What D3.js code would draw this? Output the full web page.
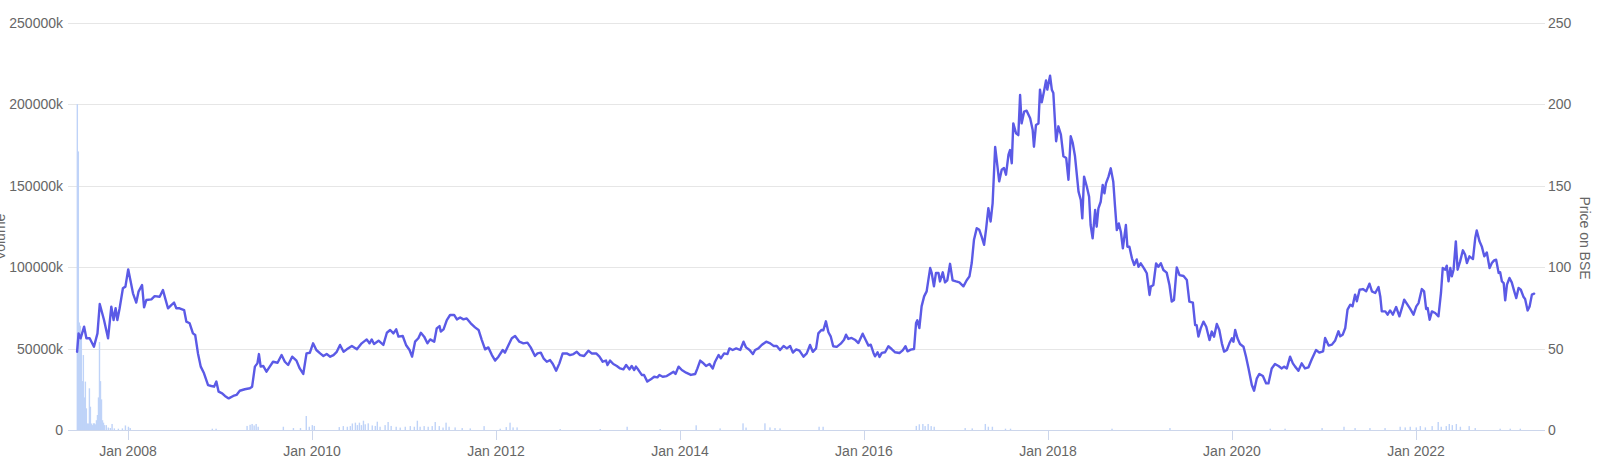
<!DOCTYPE html>
<html><head><meta charset="utf-8">
<script src="https://cdn.jsdelivr.net/npm/d3@7"></script>
<style>body{margin:0;background:#fff}svg{display:block}</style>
</head><body><svg id="c" width="1600" height="472"></svg>
<script>
// Price on BSE (date, price)
const priceSeries = [
["2007-06-13",48],["2007-06-19",59.3],["2007-06-27",56.3],["2007-07-11",63.4],["2007-07-20",56.3],["2007-08-02",56.3],["2007-08-19",51.1],["2007-09-02",59.3],["2007-09-11",77.3],["2007-09-28",67.5],["2007-10-14",56.3],["2007-10-27",75.7],["2007-11-05",67.5],["2007-11-13",74.7],["2007-11-20",67.5],["2007-11-29",74.7],["2007-12-12",87],["2007-12-22",88],["2008-01-02",98.6],["2008-01-12",91],["2008-01-21",83.9],["2008-02-03",78.2],["2008-02-12",84.9],["2008-02-26",89],["2008-03-05",75.3],["2008-03-14",79.8],["2008-04-03",80.2],["2008-04-16",82.2],["2008-05-06",81.8],["2008-05-19",85.9],["2008-05-28",80.8],["2008-06-08",74.7],["2008-06-21",76.7],["2008-07-02",78.2],["2008-07-11",74.7],["2008-07-24",74.7],["2008-08-11",73.6],["2008-08-20",66.5],["2008-09-02",65.5],["2008-09-15",59.3],["2008-09-24",58.3],["2008-10-05",47],["2008-10-16",38.9],["2008-10-29",34.8],["2008-11-14",27.6],["2008-11-27",27],["2008-12-08",26.6],["2008-12-17",29.7],["2008-12-26",23.5],["2009-01-09",22.5],["2009-01-20",20.9],["2009-02-04",19.4],["2009-02-22",20.9],["2009-03-07",21.5],["2009-03-20",24.1],["2009-04-09",25],["2009-04-29",25.6],["2009-05-08",26.6],["2009-05-19",38.9],["2009-05-29",40.9],["2009-06-04",46.6],["2009-06-11",38.9],["2009-06-21",39.3],["2009-07-04",35.8],["2009-07-17",38.9],["2009-07-30",41.9],["2009-08-17",41.3],["2009-09-02",46],["2009-09-15",41.9],["2009-09-28",39.9],["2009-10-14",45],["2009-10-31",42.6],["2009-11-13",37.8],["2009-11-27",34.4],["2009-12-10",47],["2009-12-23",47.4],["2010-01-05",53.2],["2010-01-18",49.1],
["2010-02-02",47],["2010-02-15",45.4],["2010-02-28",46.6],["2010-03-14",45],["2010-03-27",46],["2010-04-09",48],["2010-04-22",52.2],["2010-05-06",48],["2010-05-19",49.5],["2010-06-08",51.6],["2010-06-28",49.5],["2010-07-17",53.2],["2010-08-06",55.6],["2010-08-17",53.2],["2010-08-26",55.6],["2010-09-04",52.8],["2010-09-22",54.8],["2010-10-11",52.2],["2010-10-25",59.7],["2010-11-07",61.4],["2010-11-20",59.3],["2010-12-01",61.8],["2010-12-10",57.3],["2010-12-27",57.7],["2011-01-09",52.2],["2011-01-23",49.1],["2011-02-02",45],["2011-02-14",54.2],["2011-02-27",56.3],["2011-03-09",59.7],["2011-03-22",57.3],["2011-04-04",53.2],["2011-04-15",55.6],["2011-05-01",54.2],["2011-05-11",62.4],["2011-05-22",63.8],["2011-05-27",60.4],["2011-06-07",61.8],["2011-06-20",67.5],["2011-07-03",70.6],["2011-07-19",70.6],["2011-07-30",67.9],["2011-08-12",69.1],["2011-08-25",67.9],["2011-09-07",68.5],["2011-09-23",65.5],["2011-10-10",63],["2011-10-24",61.4],["2011-11-06",55.2],["2011-11-19",49.5],["2011-12-02",50.7],["2011-12-16",46],["2011-12-29",42.6],["2012-01-11",45],["2012-01-28",49.1],["2012-02-06",47.5],["2012-02-20",52.2],["2012-03-04",56.3],["2012-03-17",57.7],["2012-04-03",54.2],["2012-04-19",53.2],["2012-05-05",53.6],["2012-05-18",50.7],["2012-06-04",45.4],["2012-06-14",47],["2012-06-27",47.5],["2012-07-08",44],["2012-07-21",41.9],["2012-08-03",42.9],["2012-08-14",40.5],["2012-08-27",36.4],["2012-09-09",40.9],["2012-09-22",47],["2012-10-08",47],["2012-10-21",46],
["2012-11-04",46.6],["2012-11-17",48],["2012-11-30",46],["2012-12-16",45.4],["2013-01-02",48.7],["2013-01-15",47],["2013-02-02",47],["2013-02-15",45],["2013-02-28",41.9],["2013-03-13",42.6],["2013-03-19",39.9],["2013-03-29",42.6],["2013-04-11",40.5],["2013-04-25",39.3],["2013-05-08",37.8],["2013-05-21",37.2],["2013-06-01",39.9],["2013-06-14",37.2],["2013-06-23",39.3],["2013-07-03",36.8],["2013-07-10",38.9],["2013-07-20",36.8],["2013-08-02",33.8],["2013-08-11",33.8],["2013-08-24",29.7],["2013-09-07",31.1],["2013-09-20",32.7],["2013-10-03",32.3],["2013-10-11",33.8],["2013-10-24",32.7],["2013-11-09",33.1],["2013-11-22",34.4],["2013-12-06",35.8],["2013-12-14",34.4],["2013-12-26",38.9],["2014-01-08",36.8],["2014-01-25",35.2],["2014-02-13",33.8],["2014-03-02",34.4],["2014-03-11",37.8],["2014-03-22",42.6],["2014-04-01",41.3],["2014-04-14",39.3],["2014-04-28",40.5],["2014-05-11",37.8],["2014-05-20",41.9],["2014-06-03",46],["2014-06-12",44],["2014-06-25",47],["2014-07-08",46.6],["2014-07-16",50.1],["2014-07-29",49.1],["2014-08-12",50.1],["2014-08-28",49.1],["2014-09-10",54.2],["2014-09-20",50.7],["2014-10-04",49.1],["2014-10-17",46.6],["2014-10-26",49.1],["2014-11-08",50.1],["2014-11-21",52.2],["2014-12-09",54.2],["2014-12-25",53.2],["2015-01-07",51.6],["2015-01-20",51.6],["2015-02-02",49.1],["2015-02-16",51.6],["2015-03-01",50.1],["2015-03-14",51.6],["2015-03-25",47.5],["2015-04-07",49.5],["2015-04-20",48.7],["2015-05-06",45],["2015-05-19",47],["2015-06-01",52.2],["2015-06-12",48],["2015-06-25",50.1],["2015-07-04",59.3],["2015-07-16",61.4],
["2015-07-24",61.2],["2015-08-03",66.7],["2015-08-13",60],["2015-08-22",57.5],["2015-09-01",51.4],["2015-09-15",51],["2015-10-01",53],["2015-10-14",55.4],["2015-10-22",58.5],["2015-10-31",55.9],["2015-11-13",56.5],["2015-11-26",55.4],["2015-12-10",53.4],["2015-12-27",59.1],["2016-01-06",55.9],["2016-01-19",51.8],["2016-01-28",52.4],["2016-02-08",47.3],["2016-02-14",45.2],["2016-02-24",47.7],["2016-03-03",44.8],["2016-03-12",47.3],["2016-03-25",47.7],["2016-04-07",51.4],["2016-04-20",49.7],["2016-05-04",47.7],["2016-05-21",47.3],["2016-06-03",48.9],["2016-06-14",51.4],["2016-06-22",48.3],["2016-07-05",49.3],["2016-07-18",49.7],["2016-07-26",65.7],["2016-07-31",67.3],["2016-08-08",62.6],["2016-08-17",75.9],["2016-08-27",82],["2016-09-06",85.1],["2016-09-13",92.3],["2016-09-20",99.4],["2016-09-26",96.4],["2016-10-05",88.2],["2016-10-13",96.4],["2016-10-23",96.4],["2016-10-29",91.2],["2016-11-09",96.8],["2016-11-18",90.6],["2016-11-27",91.9],["2016-12-08",102],["2016-12-18",91.9],["2017-01-01",91.2],["2017-01-14",90.6],["2017-01-30",88.2],["2017-02-12",91.9],["2017-02-23",94.3],["2017-03-04",102.5],["2017-03-13",116.8],["2017-03-24",123.9],["2017-04-03",122.9],["2017-04-13",118.4],["2017-04-22",113.7],["2017-04-30",123.3],["2017-05-09",136.2],["2017-05-18",128],["2017-05-26",139.3],["2017-06-05",173.7],["2017-06-11",166],["2017-06-21",152.6],["2017-07-01",159.8],["2017-07-10",160.8],["2017-07-18",156.7],["2017-07-28",169],["2017-08-03",171.8],["2017-08-10",163.7],["2017-08-16",188.2],["2017-08-27",182.1],["2017-09-05",181],["2017-09-12",205.6],["2017-09-18",188.2],["2017-09-28",195.4],["2017-10-08",196],["2017-10-22",191.3],["2017-11-01",184.1],["2017-11-06",173.9],["2017-11-14",187.2],["2017-11-24",188.2],["2017-11-30",208.9],["2017-12-07",201.1],["2017-12-16",207.9],["2017-12-24",214.6],["2017-12-29",208.9],["2018-01-09",217.5],["2018-01-16",208.9],["2018-01-22",206.8],["2018-02-02",177.2],["2018-02-11",186.4],["2018-02-21",181.3],["2018-03-03",168],["2018-03-14",167],["2018-03-23",153.6],["2018-04-01",180.3],["2018-04-09",176.2],["2018-04-18",168],
["2018-05-02",146.3],["2018-05-11",141.2],["2018-05-17",129.9],["2018-05-24",155.5],["2018-06-04",149.3],["2018-06-13",143.2],["2018-06-19",125.8],["2018-06-27",117.6],["2018-07-07",135],["2018-07-13",124.8],["2018-07-20",136],["2018-07-29",140.1],["2018-08-06",150.4],["2018-08-13",145.3],["2018-08-19",151.4],["2018-08-29",155.5],["2018-09-07",160.6],["2018-09-17",152.4],["2018-09-24",137.1],["2018-10-01",122.7],["2018-10-09",126.8],["2018-10-17",121.7],["2018-10-25",111.5],["2018-11-06",125.8],["2018-11-12",112.5],["2018-11-20",112.5],["2018-11-30",105.4],["2018-12-09",101.3],["2018-12-19",104.7],["2018-12-26",100.2],["2019-01-04",102.3],["2019-01-17",99.2],["2019-01-28",96.2],["2019-02-08",82.9],["2019-02-13",88],["2019-02-23",89],["2019-03-06",102.3],["2019-03-15",100.2],["2019-03-25",102.3],["2019-04-04",98.2],["2019-04-17",96.6],["2019-04-28",89],["2019-05-07",78.8],["2019-05-16",79.8],["2019-05-27",99.8],["2019-06-07",95.1],["2019-06-23",94.5],["2019-07-06",92.1],["2019-07-16",78.8],["2019-07-30",78.2],["2019-08-08",64.4],["2019-08-14",64.4],["2019-08-21",57.3],["2019-08-30",62.4],["2019-09-10",66.5],["2019-09-21",63.4],["2019-10-04",55.2],["2019-10-13",60.4],["2019-10-22",57.3],["2019-11-02",65.1],["2019-11-12",61.4],["2019-11-22",53.2],["2019-12-01",48.1],["2019-12-12",49.1],["2019-12-22",53.2],["2020-01-01",56.3],["2020-01-07",54.2],["2020-01-14",61.4],["2020-01-23",56.3],["2020-02-02",52.8],["2020-02-16",51.1],["2020-02-26",45],["2020-03-07",37.8],["2020-03-20",27.6],["2020-03-29",24.1],["2020-04-09",31.7],["2020-04-19",34.4],["2020-05-03",33.1],["2020-05-16",28.6],["2020-05-25",28.6],["2020-06-07",37.8],["2020-06-20",40.5],["2020-07-04",39.3],["2020-07-17",37.8],["2020-07-26",38.9],["2020-08-06",37.8],["2020-08-19",45],["2020-08-30",40.9],["2020-09-08",38.9],["2020-09-21",36.4],["2020-10-04",40.9],["2020-10-17",37.8],["2020-10-31",38.5],["2020-11-13",43.4],["2020-11-30",49.1],["2020-12-13",47.5],
["2020-12-28",48.3],["2021-01-05",56.5],["2021-01-19",51.8],["2021-02-01",52.4],["2021-02-14",55],["2021-02-27",60.6],["2021-03-06",57.5],["2021-03-16",58.5],["2021-03-26",62.6],["2021-04-04",73.9],["2021-04-15",76.9],["2021-04-24",75.9],["2021-05-04",83.1],["2021-05-11",79],["2021-05-22",86.1],["2021-06-04",86.5],["2021-06-17",85.1],["2021-06-30",89.8],["2021-07-10",85.1],["2021-07-23",84.1],["2021-08-05",87.8],["2021-08-12",82],["2021-08-18",72.8],["2021-09-01",72.8],["2021-09-10",70.8],["2021-09-20",73.4],["2021-10-01",70.8],["2021-10-14",75.5],["2021-10-27",69.8],["2021-11-06",74.9],["2021-11-15",80],["2021-11-28",76.9],["2021-12-09",74.3],["2021-12-22",70.8],["2022-01-02",75.9],["2022-01-11",77.9],["2022-01-24",86.5],["2022-02-02",85.1],["2022-02-10",74.3],["2022-02-16",74.9],["2022-02-24",67.7],["2022-03-05",72.8],["2022-03-18",71.8],["2022-03-31",69.8],["2022-04-10",84.1],["2022-04-17",99.4],["2022-04-27",98.4],["2022-05-03",100.9],["2022-05-10",91.2],["2022-05-17",99.4],["2022-05-23",94.3],["2022-05-30",98.4],["2022-06-08",115.8],["2022-06-15",98.4],["2022-06-25",103.5],["2022-07-06",110.3],["2022-07-15",107.6],["2022-07-22",102.5],["2022-08-01",106.6],["2022-08-15",104.9],["2022-08-24",117.8],["2022-08-30",122.5],["2022-09-10",115.8],["2022-09-19",112.7],["2022-09-29",106.6],["2022-10-09",109],["2022-10-20",99.4],["2022-10-29",102.5],["2022-11-07",104.1],["2022-11-15",104.5],["2022-11-25",96.4],["2022-12-01",96.8],["2022-12-08",91.2],["2022-12-15",90.2],["2022-12-21",79.6],["2022-12-28",89.2],["2023-01-07",93.3],["2023-01-16",90.6],["2023-01-26",85.1],["2023-02-03",81],["2023-02-12",87.2],["2023-02-21",86.1],["2023-03-04",81.6],["2023-03-10",80.4],["2023-03-20",73.4],["2023-03-28",75.9],["2023-04-06",83.1],["2023-04-15",83.7]
];

// Volume in thousands (date, volume k)
const volumeSeries = [
["2007-06-14",200000],["2007-06-18",171000],["2007-06-22",66000],["2007-06-26",64000],["2007-06-30",60000],["2007-07-04",30000],["2007-07-08",46000],["2007-07-12",20000],["2007-07-16",29700],["2007-07-20",13300],["2007-07-24",4000],["2007-07-28",4000],["2007-08-01",25600],["2007-08-05",14300],["2007-08-09",4000],["2007-08-13",3000],["2007-08-17",4100],["2007-08-21",4100],["2007-08-25",3500],["2007-08-29",6000],["2007-09-02",9200],["2007-09-06",20000],["2007-09-10",54000],["2007-09-14",30000],["2007-09-18",18800],["2007-09-22",6000],["2007-09-26",4500],["2007-09-30",3000],["2007-10-07",3000],["2007-10-15",1500],["2007-10-23",1200],["2007-10-30",3700],["2007-11-08",1000],["2007-11-24",800],["2007-12-10",1000],["2007-12-22",2800],["2008-01-03",2000],["2008-01-10",1200],
["2008-12-01",800],["2008-12-16",800],["2009-04-18",2500],["2009-04-30",3200],["2009-05-08",3700],["2009-05-16",2800],["2009-05-24",3700],["2009-06-01",2000],["2009-09-09",2000],["2009-10-19",1200],["2009-11-16",1200],["2009-12-09",8600],["2009-12-21",2000],["2010-01-02",3000],["2010-01-10",2500],
["2010-04-19",1800],["2010-05-05",2400],["2010-05-21",2000],["2010-06-02",2400],["2010-06-10",4000],["2010-06-22",4500],["2010-06-30",3000],["2010-07-08",4500],["2010-07-16",3000],["2010-07-24",5700],["2010-07-31",3500],["2010-08-12",4100],["2010-08-28",2800],["2010-09-09",2500],["2010-09-17",5100],["2010-09-28",2000],["2010-10-18",3000],["2010-10-30",4900],["2010-11-11",2500],["2010-12-01",2000],["2010-12-17",1500],
["2011-01-06",2000],["2011-01-26",2400],["2011-02-11",2000],["2011-02-23",5700],["2011-03-06",2000],["2011-03-22",2400],["2011-04-07",2000],["2011-04-23",2400],["2011-05-05",4900],["2011-05-21",2400],["2011-06-05",1500],["2011-06-17",4500],["2011-06-29",2000],["2011-07-23",1600],["2011-08-20",1200],["2011-09-21",1000],["2011-11-15",2400],
["2012-01-18",800],["2012-02-11",1800],["2012-02-26",4500],["2012-03-09",1600],["2012-03-25",1600],["2012-09-12",600],["2013-02-18",600],["2013-06-05",2000],["2013-10-14",600],["2014-03-06",2900],["2014-06-09",1000],["2014-09-08",4100],["2014-09-20",1500],["2014-12-04",4100],["2014-12-24",1600],["2015-01-13",1200],["2015-02-02",1000],["2015-07-07",2000],["2015-07-23",2000],
["2016-07-27",2500],["2016-08-08",3500],["2016-08-22",3700],["2016-08-31",2400],["2016-09-12",3700],["2016-09-24",2400],["2016-10-06",2000],["2017-02-06",1200],["2017-03-06",1000],["2017-04-27",3700],["2017-05-09",2000],["2017-05-25",2000],["2017-07-16",800],["2017-08-05",800],["2018-09-12",800],["2019-04-30",1200],["2020-06-01",800],["2020-07-30",800],["2020-12-24",1200],
["2021-03-21",2000],["2021-05-04",1200],["2021-07-02",1200],["2021-08-31",1200],["2021-10-30",2000],["2021-11-19",1600],["2021-12-09",2000],["2022-01-02",1600],["2022-01-18",2400],["2022-02-07",1600],["2022-03-06",2400],["2022-03-30",4900],["2022-04-11",2000],["2022-05-01",2400],["2022-05-13",3700],["2022-05-25",3000],["2022-06-10",3700],["2022-06-26",2000],["2022-07-31",2400],["2022-08-24",1200],["2022-12-01",800],["2023-01-10",800],["2023-02-19",800]
];

const volumeTicks = [0, 50000, 100000, 150000, 200000, 250000];
const priceTicks = [0, 50, 100, 150, 200, 250];
const xTickDates = ["2008-01-01","2010-01-01","2012-01-01","2014-01-01","2016-01-01","2018-01-01","2020-01-01","2022-01-01"];
const xDomain = ["2007-05-08","2023-05-28"];
const volumeTitle = "Volume";
const priceTitle = "Price on BSE";

const parse = d3.timeParse("%Y-%m-%d");
const L = 68, R = 1545, T = 22.7, B = 430;
const FONT = "'Liberation Sans', Arial, Helvetica, sans-serif";
const svg = d3.select("#c");

const x = d3.scaleTime().domain(xDomain.map(parse)).range([L, R]);
const yV = d3.scaleLinear().domain([0, 250000]).range([B, T]);
const yP = d3.scaleLinear().domain([0, 250]).range([B, T]);

// gridlines
svg.append("g").selectAll("line").data(priceTicks.filter(t => t > 0)).join("line")
  .attr("x1", L).attr("x2", R)
  .attr("y1", d => Math.round(yP(d)) + 0.5).attr("y2", d => Math.round(yP(d)) + 0.5)
  .attr("stroke", "#e6e6e6").attr("stroke-width", 1);

// volume bars
const vol = volumeSeries.map(d => ({date: parse(d[0]), v: d[1]}));
svg.append("g").selectAll("rect").data(vol).join("rect")
  .attr("x", d => x(d.date) - 0.7).attr("width", 1.4)
  .attr("y", d => yV(d.v)).attr("height", d => B - yV(d.v))
  .attr("fill", "#bfd3f8");

// x axis line
svg.append("line").attr("x1", L).attr("x2", R).attr("y1", B + 0.5).attr("y2", B + 0.5)
  .attr("stroke", "#ccd6eb").attr("stroke-width", 1);

// price line
const price = priceSeries.map(d => ({date: parse(d[0]), v: d[1]}));
svg.append("path").datum(price)
  .attr("d", d3.line().x(d => x(d.date)).y(d => yP(d.v)))
  .attr("fill", "none").attr("stroke", "#5b5ae6").attr("stroke-width", 2.4)
  .attr("stroke-linejoin", "round").attr("stroke-linecap", "round");

// x ticks + labels
const xt = xTickDates.map(parse);
const fmt = d3.timeFormat("%b %Y");
svg.append("g").selectAll("line").data(xt).join("line")
  .attr("x1", d => Math.round(x(d)) + 0.5).attr("x2", d => Math.round(x(d)) + 0.5)
  .attr("y1", B).attr("y2", B + 10).attr("stroke", "#ccd6eb");
svg.append("g").selectAll("text").data(xt).join("text")
  .attr("x", d => x(d)).attr("y", 456).attr("text-anchor", "middle")
  .attr("font-family", FONT).attr("font-size", 14).attr("fill", "#666666")
  .text(d => fmt(d));

// left volume labels
svg.append("g").selectAll("text").data(volumeTicks).join("text")
  .attr("x", 63).attr("y", d => yV(d) + 5).attr("text-anchor", "end")
  .attr("font-family", FONT).attr("font-size", 14).attr("fill", "#666666")
  .text(d => d === 0 ? "0" : d + "k");

// right price labels
svg.append("g").selectAll("text").data(priceTicks).join("text")
  .attr("x", 1548).attr("y", d => yP(d) + 5).attr("text-anchor", "start")
  .attr("font-family", FONT).attr("font-size", 14).attr("fill", "#666666")
  .text(d => d);

// axis titles (the left one sits partly past the edge, as in the reference)
svg.append("text").attr("transform", "translate(5,237) rotate(-90)")
  .attr("text-anchor", "middle").attr("font-family", FONT).attr("font-size", 14)
  .attr("fill", "#666666").text(volumeTitle);
svg.append("text").attr("transform", "translate(1580,238) rotate(90)")
  .attr("text-anchor", "middle").attr("font-family", FONT).attr("font-size", 14)
  .attr("fill", "#666666").text(priceTitle);
</script>
</body></html>
